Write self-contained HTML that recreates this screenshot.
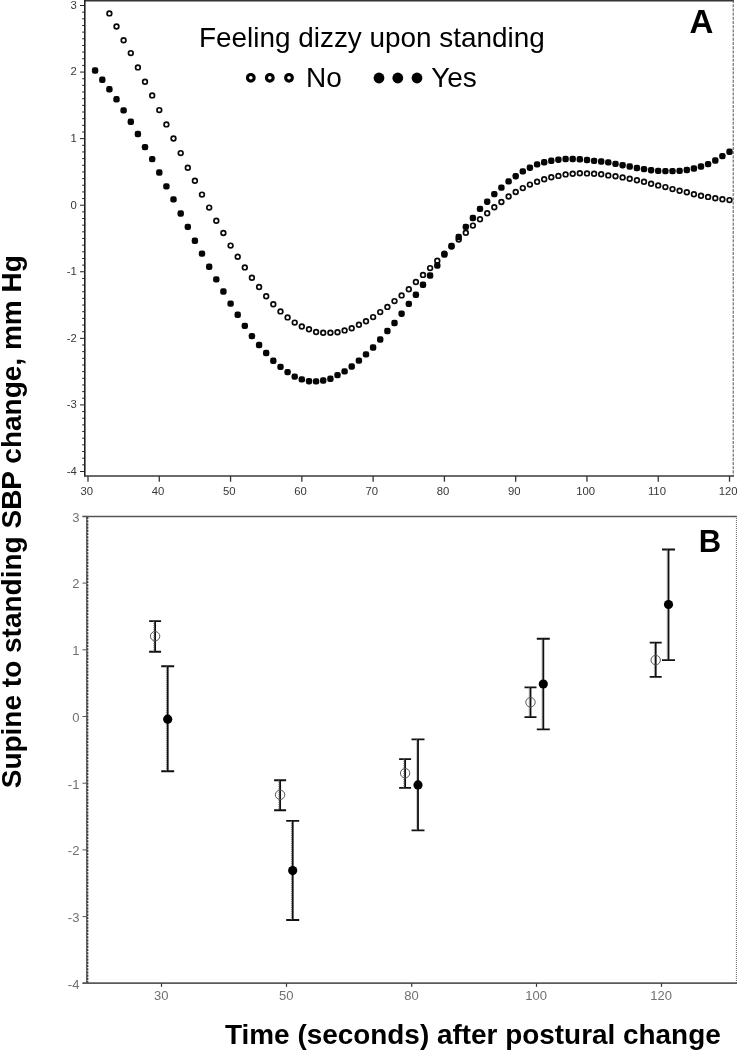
<!DOCTYPE html>
<html lang="en"><head><meta charset="utf-8"><title>Supine to standing SBP change</title>
<style>html,body{margin:0;padding:0;background:#fff}body{width:738px;height:1050px;overflow:hidden}svg{display:block;will-change:transform}text{font-family:"Liberation Sans",Arial,Helvetica,sans-serif}.big{font-size:28px;fill:#000}.bold{font-weight:bold}.pl{font-size:31px;font-weight:bold;fill:#000}.ta{font-size:11.3px;fill:#383838}.tb{font-size:13px;fill:#707070}.plA{font-size:33px;font-weight:bold;fill:#000}</style></head><body>
<svg width="738" height="1050" viewBox="0 0 738 1050">
<rect width="738" height="1050" fill="#fff"/>
<g id="panelA">
<line x1="84" y1="0.6" x2="734" y2="0.6" stroke="#333" stroke-width="1.6"/>
<line x1="84.8" y1="0" x2="84.8" y2="476.4" stroke="#222" stroke-width="1.6"/>
<line x1="84" y1="476.0" x2="734" y2="476.0" stroke="#3a3a3a" stroke-width="1.6"/>
<line x1="733.2" y1="0" x2="733.2" y2="476" stroke="#555" stroke-width="1" stroke-dasharray="3 1.2"/>
<line x1="80" y1="5.50" x2="85" y2="5.50" stroke="#222" stroke-width="1"/>
<text class="ta" x="76.8" y="8.90" text-anchor="end">3</text>
<line x1="82.2" y1="12.16" x2="85" y2="12.16" stroke="#222" stroke-width="1"/>
<line x1="82.2" y1="18.81" x2="85" y2="18.81" stroke="#222" stroke-width="1"/>
<line x1="82.2" y1="25.47" x2="85" y2="25.47" stroke="#222" stroke-width="1"/>
<line x1="82.2" y1="32.13" x2="85" y2="32.13" stroke="#222" stroke-width="1"/>
<line x1="82.2" y1="38.78" x2="85" y2="38.78" stroke="#222" stroke-width="1"/>
<line x1="82.2" y1="45.44" x2="85" y2="45.44" stroke="#222" stroke-width="1"/>
<line x1="82.2" y1="52.10" x2="85" y2="52.10" stroke="#222" stroke-width="1"/>
<line x1="82.2" y1="58.76" x2="85" y2="58.76" stroke="#222" stroke-width="1"/>
<line x1="82.2" y1="65.41" x2="85" y2="65.41" stroke="#222" stroke-width="1"/>
<line x1="80" y1="72.07" x2="85" y2="72.07" stroke="#222" stroke-width="1"/>
<text class="ta" x="76.8" y="75.47" text-anchor="end">2</text>
<line x1="82.2" y1="78.73" x2="85" y2="78.73" stroke="#222" stroke-width="1"/>
<line x1="82.2" y1="85.38" x2="85" y2="85.38" stroke="#222" stroke-width="1"/>
<line x1="82.2" y1="92.04" x2="85" y2="92.04" stroke="#222" stroke-width="1"/>
<line x1="82.2" y1="98.70" x2="85" y2="98.70" stroke="#222" stroke-width="1"/>
<line x1="82.2" y1="105.35" x2="85" y2="105.35" stroke="#222" stroke-width="1"/>
<line x1="82.2" y1="112.01" x2="85" y2="112.01" stroke="#222" stroke-width="1"/>
<line x1="82.2" y1="118.67" x2="85" y2="118.67" stroke="#222" stroke-width="1"/>
<line x1="82.2" y1="125.33" x2="85" y2="125.33" stroke="#222" stroke-width="1"/>
<line x1="82.2" y1="131.98" x2="85" y2="131.98" stroke="#222" stroke-width="1"/>
<line x1="80" y1="138.64" x2="85" y2="138.64" stroke="#222" stroke-width="1"/>
<text class="ta" x="76.8" y="142.04" text-anchor="end">1</text>
<line x1="82.2" y1="145.30" x2="85" y2="145.30" stroke="#222" stroke-width="1"/>
<line x1="82.2" y1="151.95" x2="85" y2="151.95" stroke="#222" stroke-width="1"/>
<line x1="82.2" y1="158.61" x2="85" y2="158.61" stroke="#222" stroke-width="1"/>
<line x1="82.2" y1="165.27" x2="85" y2="165.27" stroke="#222" stroke-width="1"/>
<line x1="82.2" y1="171.92" x2="85" y2="171.92" stroke="#222" stroke-width="1"/>
<line x1="82.2" y1="178.58" x2="85" y2="178.58" stroke="#222" stroke-width="1"/>
<line x1="82.2" y1="185.24" x2="85" y2="185.24" stroke="#222" stroke-width="1"/>
<line x1="82.2" y1="191.90" x2="85" y2="191.90" stroke="#222" stroke-width="1"/>
<line x1="82.2" y1="198.55" x2="85" y2="198.55" stroke="#222" stroke-width="1"/>
<line x1="80" y1="205.21" x2="85" y2="205.21" stroke="#222" stroke-width="1"/>
<text class="ta" x="76.8" y="208.61" text-anchor="end">0</text>
<line x1="82.2" y1="211.87" x2="85" y2="211.87" stroke="#222" stroke-width="1"/>
<line x1="82.2" y1="218.52" x2="85" y2="218.52" stroke="#222" stroke-width="1"/>
<line x1="82.2" y1="225.18" x2="85" y2="225.18" stroke="#222" stroke-width="1"/>
<line x1="82.2" y1="231.84" x2="85" y2="231.84" stroke="#222" stroke-width="1"/>
<line x1="82.2" y1="238.49" x2="85" y2="238.49" stroke="#222" stroke-width="1"/>
<line x1="82.2" y1="245.15" x2="85" y2="245.15" stroke="#222" stroke-width="1"/>
<line x1="82.2" y1="251.81" x2="85" y2="251.81" stroke="#222" stroke-width="1"/>
<line x1="82.2" y1="258.47" x2="85" y2="258.47" stroke="#222" stroke-width="1"/>
<line x1="82.2" y1="265.12" x2="85" y2="265.12" stroke="#222" stroke-width="1"/>
<line x1="80" y1="271.78" x2="85" y2="271.78" stroke="#222" stroke-width="1"/>
<text class="ta" x="76.8" y="275.18" text-anchor="end">-1</text>
<line x1="82.2" y1="278.44" x2="85" y2="278.44" stroke="#222" stroke-width="1"/>
<line x1="82.2" y1="285.09" x2="85" y2="285.09" stroke="#222" stroke-width="1"/>
<line x1="82.2" y1="291.75" x2="85" y2="291.75" stroke="#222" stroke-width="1"/>
<line x1="82.2" y1="298.41" x2="85" y2="298.41" stroke="#222" stroke-width="1"/>
<line x1="82.2" y1="305.06" x2="85" y2="305.06" stroke="#222" stroke-width="1"/>
<line x1="82.2" y1="311.72" x2="85" y2="311.72" stroke="#222" stroke-width="1"/>
<line x1="82.2" y1="318.38" x2="85" y2="318.38" stroke="#222" stroke-width="1"/>
<line x1="82.2" y1="325.04" x2="85" y2="325.04" stroke="#222" stroke-width="1"/>
<line x1="82.2" y1="331.69" x2="85" y2="331.69" stroke="#222" stroke-width="1"/>
<line x1="80" y1="338.35" x2="85" y2="338.35" stroke="#222" stroke-width="1"/>
<text class="ta" x="76.8" y="341.75" text-anchor="end">-2</text>
<line x1="82.2" y1="345.01" x2="85" y2="345.01" stroke="#222" stroke-width="1"/>
<line x1="82.2" y1="351.66" x2="85" y2="351.66" stroke="#222" stroke-width="1"/>
<line x1="82.2" y1="358.32" x2="85" y2="358.32" stroke="#222" stroke-width="1"/>
<line x1="82.2" y1="364.98" x2="85" y2="364.98" stroke="#222" stroke-width="1"/>
<line x1="82.2" y1="371.63" x2="85" y2="371.63" stroke="#222" stroke-width="1"/>
<line x1="82.2" y1="378.29" x2="85" y2="378.29" stroke="#222" stroke-width="1"/>
<line x1="82.2" y1="384.95" x2="85" y2="384.95" stroke="#222" stroke-width="1"/>
<line x1="82.2" y1="391.61" x2="85" y2="391.61" stroke="#222" stroke-width="1"/>
<line x1="82.2" y1="398.26" x2="85" y2="398.26" stroke="#222" stroke-width="1"/>
<line x1="80" y1="404.92" x2="85" y2="404.92" stroke="#222" stroke-width="1"/>
<text class="ta" x="76.8" y="408.32" text-anchor="end">-3</text>
<line x1="82.2" y1="411.58" x2="85" y2="411.58" stroke="#222" stroke-width="1"/>
<line x1="82.2" y1="418.23" x2="85" y2="418.23" stroke="#222" stroke-width="1"/>
<line x1="82.2" y1="424.89" x2="85" y2="424.89" stroke="#222" stroke-width="1"/>
<line x1="82.2" y1="431.55" x2="85" y2="431.55" stroke="#222" stroke-width="1"/>
<line x1="82.2" y1="438.20" x2="85" y2="438.20" stroke="#222" stroke-width="1"/>
<line x1="82.2" y1="444.86" x2="85" y2="444.86" stroke="#222" stroke-width="1"/>
<line x1="82.2" y1="451.52" x2="85" y2="451.52" stroke="#222" stroke-width="1"/>
<line x1="82.2" y1="458.18" x2="85" y2="458.18" stroke="#222" stroke-width="1"/>
<line x1="82.2" y1="464.83" x2="85" y2="464.83" stroke="#222" stroke-width="1"/>
<line x1="80" y1="471.49" x2="85" y2="471.49" stroke="#222" stroke-width="1"/>
<text class="ta" x="76.8" y="474.89" text-anchor="end">-4</text>
<line x1="88.00" y1="476" x2="88.00" y2="481.7" stroke="#333" stroke-width="1.3"/>
<text class="ta" x="86.70" y="495.4" text-anchor="middle">30</text>
<line x1="159.28" y1="476" x2="159.28" y2="481.7" stroke="#333" stroke-width="1.3"/>
<text class="ta" x="157.98" y="495.4" text-anchor="middle">40</text>
<line x1="230.56" y1="476" x2="230.56" y2="481.7" stroke="#333" stroke-width="1.3"/>
<text class="ta" x="229.26" y="495.4" text-anchor="middle">50</text>
<line x1="301.84" y1="476" x2="301.84" y2="481.7" stroke="#333" stroke-width="1.3"/>
<text class="ta" x="300.54" y="495.4" text-anchor="middle">60</text>
<line x1="373.12" y1="476" x2="373.12" y2="481.7" stroke="#333" stroke-width="1.3"/>
<text class="ta" x="371.82" y="495.4" text-anchor="middle">70</text>
<line x1="444.40" y1="476" x2="444.40" y2="481.7" stroke="#333" stroke-width="1.3"/>
<text class="ta" x="443.10" y="495.4" text-anchor="middle">80</text>
<line x1="515.68" y1="476" x2="515.68" y2="481.7" stroke="#333" stroke-width="1.3"/>
<text class="ta" x="514.38" y="495.4" text-anchor="middle">90</text>
<line x1="586.96" y1="476" x2="586.96" y2="481.7" stroke="#333" stroke-width="1.3"/>
<text class="ta" x="585.66" y="495.4" text-anchor="middle">100</text>
<line x1="658.24" y1="476" x2="658.24" y2="481.7" stroke="#333" stroke-width="1.3"/>
<text class="ta" x="656.94" y="495.4" text-anchor="middle">110</text>
<line x1="729.52" y1="476" x2="729.52" y2="481.7" stroke="#333" stroke-width="1.3"/>
<text class="ta" x="728.22" y="495.4" text-anchor="middle">120</text>
<g fill="#fff" stroke="#0a0a0a" stroke-width="1.7">
<circle cx="109.4" cy="13.4" r="2.35"/>
<circle cx="116.5" cy="26.5" r="2.35"/>
<circle cx="123.6" cy="40.3" r="2.35"/>
<circle cx="130.8" cy="53.1" r="2.35"/>
<circle cx="137.9" cy="67.4" r="2.35"/>
<circle cx="145.0" cy="81.7" r="2.35"/>
<circle cx="152.2" cy="95.4" r="2.35"/>
<circle cx="159.3" cy="110.1" r="2.35"/>
<circle cx="166.4" cy="124.4" r="2.35"/>
<circle cx="173.5" cy="138.5" r="2.35"/>
<circle cx="180.7" cy="153.1" r="2.35"/>
<circle cx="187.8" cy="167.7" r="2.35"/>
<circle cx="194.9" cy="180.7" r="2.35"/>
<circle cx="202.0" cy="194.6" r="2.35"/>
<circle cx="209.2" cy="207.6" r="2.35"/>
<circle cx="216.3" cy="220.8" r="2.35"/>
<circle cx="223.4" cy="233.0" r="2.35"/>
<circle cx="230.6" cy="245.6" r="2.35"/>
<circle cx="237.7" cy="256.7" r="2.35"/>
<circle cx="244.8" cy="267.4" r="2.35"/>
<circle cx="251.9" cy="277.8" r="2.35"/>
<circle cx="259.1" cy="287.0" r="2.35"/>
<circle cx="266.2" cy="296.2" r="2.35"/>
<circle cx="273.3" cy="304.2" r="2.35"/>
<circle cx="280.5" cy="311.4" r="2.35"/>
<circle cx="287.6" cy="317.4" r="2.35"/>
<circle cx="294.7" cy="322.6" r="2.35"/>
<circle cx="301.8" cy="326.5" r="2.35"/>
<circle cx="309.0" cy="329.3" r="2.35"/>
<circle cx="316.1" cy="332.0" r="2.35"/>
<circle cx="323.2" cy="332.8" r="2.35"/>
<circle cx="330.4" cy="332.8" r="2.35"/>
<circle cx="337.5" cy="332.2" r="2.35"/>
<circle cx="344.6" cy="330.4" r="2.35"/>
<circle cx="351.7" cy="328.2" r="2.35"/>
<circle cx="358.9" cy="324.8" r="2.35"/>
<circle cx="366.0" cy="321.2" r="2.35"/>
<circle cx="373.1" cy="317.1" r="2.35"/>
<circle cx="380.2" cy="312.1" r="2.35"/>
<circle cx="387.4" cy="306.9" r="2.35"/>
<circle cx="394.5" cy="301.1" r="2.35"/>
<circle cx="401.6" cy="295.4" r="2.35"/>
<circle cx="408.8" cy="289.2" r="2.35"/>
<circle cx="415.9" cy="282.0" r="2.35"/>
<circle cx="423.0" cy="274.9" r="2.35"/>
<circle cx="430.1" cy="268.1" r="2.35"/>
<circle cx="437.3" cy="260.8" r="2.35"/>
<circle cx="444.4" cy="253.6" r="2.35"/>
<circle cx="451.5" cy="246.5" r="2.35"/>
<circle cx="458.7" cy="239.5" r="2.35"/>
<circle cx="465.8" cy="232.7" r="2.35"/>
<circle cx="472.9" cy="225.6" r="2.35"/>
<circle cx="480.0" cy="219.3" r="2.35"/>
<circle cx="487.2" cy="213.2" r="2.35"/>
<circle cx="494.3" cy="207.2" r="2.35"/>
<circle cx="501.4" cy="202.0" r="2.35"/>
<circle cx="508.6" cy="196.5" r="2.35"/>
<circle cx="515.7" cy="192.0" r="2.35"/>
<circle cx="522.8" cy="188.1" r="2.35"/>
<circle cx="529.9" cy="184.6" r="2.35"/>
<circle cx="537.1" cy="181.8" r="2.35"/>
<circle cx="544.2" cy="179.2" r="2.35"/>
<circle cx="551.3" cy="177.2" r="2.35"/>
<circle cx="558.4" cy="175.9" r="2.35"/>
<circle cx="565.6" cy="174.4" r="2.35"/>
<circle cx="572.7" cy="173.8" r="2.35"/>
<circle cx="579.8" cy="173.3" r="2.35"/>
<circle cx="587.0" cy="173.4" r="2.35"/>
<circle cx="594.1" cy="173.8" r="2.35"/>
<circle cx="601.2" cy="174.3" r="2.35"/>
<circle cx="608.3" cy="175.4" r="2.35"/>
<circle cx="615.5" cy="176.3" r="2.35"/>
<circle cx="622.6" cy="177.4" r="2.35"/>
<circle cx="629.7" cy="178.7" r="2.35"/>
<circle cx="636.9" cy="180.2" r="2.35"/>
<circle cx="644.0" cy="181.7" r="2.35"/>
<circle cx="651.1" cy="183.7" r="2.35"/>
<circle cx="658.2" cy="185.4" r="2.35"/>
<circle cx="665.4" cy="187.1" r="2.35"/>
<circle cx="672.5" cy="189.1" r="2.35"/>
<circle cx="679.6" cy="190.8" r="2.35"/>
<circle cx="686.8" cy="192.3" r="2.35"/>
<circle cx="693.9" cy="194.3" r="2.35"/>
<circle cx="701.0" cy="195.8" r="2.35"/>
<circle cx="708.1" cy="196.9" r="2.35"/>
<circle cx="715.3" cy="198.2" r="2.35"/>
<circle cx="722.4" cy="199.3" r="2.35"/>
<circle cx="729.5" cy="200.1" r="2.35"/>
</g>
<g fill="#050505">
<rect x="91.9" y="67.3" width="6.4" height="6.4" rx="2.3"/>
<rect x="99.1" y="76.6" width="6.4" height="6.4" rx="2.3"/>
<rect x="106.2" y="86.1" width="6.4" height="6.4" rx="2.3"/>
<rect x="113.3" y="96.1" width="6.4" height="6.4" rx="2.3"/>
<rect x="120.4" y="107.2" width="6.4" height="6.4" rx="2.3"/>
<rect x="127.6" y="118.6" width="6.4" height="6.4" rx="2.3"/>
<rect x="134.7" y="130.8" width="6.4" height="6.4" rx="2.3"/>
<rect x="141.8" y="143.9" width="6.4" height="6.4" rx="2.3"/>
<rect x="149.0" y="155.9" width="6.4" height="6.4" rx="2.3"/>
<rect x="156.1" y="169.3" width="6.4" height="6.4" rx="2.3"/>
<rect x="163.2" y="183.2" width="6.4" height="6.4" rx="2.3"/>
<rect x="170.3" y="196.2" width="6.4" height="6.4" rx="2.3"/>
<rect x="177.5" y="210.3" width="6.4" height="6.4" rx="2.3"/>
<rect x="184.6" y="223.7" width="6.4" height="6.4" rx="2.3"/>
<rect x="191.7" y="237.6" width="6.4" height="6.4" rx="2.3"/>
<rect x="198.8" y="250.4" width="6.4" height="6.4" rx="2.3"/>
<rect x="206.0" y="263.6" width="6.4" height="6.4" rx="2.3"/>
<rect x="213.1" y="276.2" width="6.4" height="6.4" rx="2.3"/>
<rect x="220.2" y="288.3" width="6.4" height="6.4" rx="2.3"/>
<rect x="227.4" y="300.4" width="6.4" height="6.4" rx="2.3"/>
<rect x="234.5" y="311.6" width="6.4" height="6.4" rx="2.3"/>
<rect x="241.6" y="322.7" width="6.4" height="6.4" rx="2.3"/>
<rect x="248.7" y="332.9" width="6.4" height="6.4" rx="2.3"/>
<rect x="255.9" y="341.8" width="6.4" height="6.4" rx="2.3"/>
<rect x="263.0" y="349.8" width="6.4" height="6.4" rx="2.3"/>
<rect x="270.1" y="357.6" width="6.4" height="6.4" rx="2.3"/>
<rect x="277.3" y="363.7" width="6.4" height="6.4" rx="2.3"/>
<rect x="284.4" y="368.9" width="6.4" height="6.4" rx="2.3"/>
<rect x="291.5" y="373.4" width="6.4" height="6.4" rx="2.3"/>
<rect x="298.6" y="376.2" width="6.4" height="6.4" rx="2.3"/>
<rect x="305.8" y="378.0" width="6.4" height="6.4" rx="2.3"/>
<rect x="312.9" y="378.2" width="6.4" height="6.4" rx="2.3"/>
<rect x="320.0" y="377.3" width="6.4" height="6.4" rx="2.3"/>
<rect x="327.2" y="375.6" width="6.4" height="6.4" rx="2.3"/>
<rect x="334.3" y="371.9" width="6.4" height="6.4" rx="2.3"/>
<rect x="341.4" y="368.2" width="6.4" height="6.4" rx="2.3"/>
<rect x="348.5" y="363.3" width="6.4" height="6.4" rx="2.3"/>
<rect x="355.7" y="357.4" width="6.4" height="6.4" rx="2.3"/>
<rect x="362.8" y="351.2" width="6.4" height="6.4" rx="2.3"/>
<rect x="369.9" y="344.3" width="6.4" height="6.4" rx="2.3"/>
<rect x="377.0" y="336.3" width="6.4" height="6.4" rx="2.3"/>
<rect x="384.2" y="327.8" width="6.4" height="6.4" rx="2.3"/>
<rect x="391.3" y="319.8" width="6.4" height="6.4" rx="2.3"/>
<rect x="398.4" y="310.5" width="6.4" height="6.4" rx="2.3"/>
<rect x="405.6" y="300.7" width="6.4" height="6.4" rx="2.3"/>
<rect x="412.7" y="291.6" width="6.4" height="6.4" rx="2.3"/>
<rect x="419.8" y="281.6" width="6.4" height="6.4" rx="2.3"/>
<rect x="426.9" y="272.3" width="6.4" height="6.4" rx="2.3"/>
<rect x="434.1" y="262.3" width="6.4" height="6.4" rx="2.3"/>
<rect x="441.2" y="251.3" width="6.4" height="6.4" rx="2.3"/>
<rect x="448.3" y="242.8" width="6.4" height="6.4" rx="2.3"/>
<rect x="455.5" y="233.8" width="6.4" height="6.4" rx="2.3"/>
<rect x="462.6" y="223.7" width="6.4" height="6.4" rx="2.3"/>
<rect x="469.7" y="214.8" width="6.4" height="6.4" rx="2.3"/>
<rect x="476.8" y="205.7" width="6.4" height="6.4" rx="2.3"/>
<rect x="484.0" y="198.5" width="6.4" height="6.4" rx="2.3"/>
<rect x="491.1" y="190.9" width="6.4" height="6.4" rx="2.3"/>
<rect x="498.2" y="184.4" width="6.4" height="6.4" rx="2.3"/>
<rect x="505.4" y="178.2" width="6.4" height="6.4" rx="2.3"/>
<rect x="512.5" y="173.0" width="6.4" height="6.4" rx="2.3"/>
<rect x="519.6" y="168.2" width="6.4" height="6.4" rx="2.3"/>
<rect x="526.7" y="164.5" width="6.4" height="6.4" rx="2.3"/>
<rect x="533.9" y="161.2" width="6.4" height="6.4" rx="2.3"/>
<rect x="541.0" y="159.1" width="6.4" height="6.4" rx="2.3"/>
<rect x="548.1" y="157.6" width="6.4" height="6.4" rx="2.3"/>
<rect x="555.2" y="156.5" width="6.4" height="6.4" rx="2.3"/>
<rect x="562.4" y="155.8" width="6.4" height="6.4" rx="2.3"/>
<rect x="569.5" y="155.8" width="6.4" height="6.4" rx="2.3"/>
<rect x="576.6" y="156.1" width="6.4" height="6.4" rx="2.3"/>
<rect x="583.8" y="156.8" width="6.4" height="6.4" rx="2.3"/>
<rect x="590.9" y="157.7" width="6.4" height="6.4" rx="2.3"/>
<rect x="598.0" y="158.3" width="6.4" height="6.4" rx="2.3"/>
<rect x="605.1" y="159.2" width="6.4" height="6.4" rx="2.3"/>
<rect x="612.3" y="160.7" width="6.4" height="6.4" rx="2.3"/>
<rect x="619.4" y="162.0" width="6.4" height="6.4" rx="2.3"/>
<rect x="626.5" y="163.3" width="6.4" height="6.4" rx="2.3"/>
<rect x="633.7" y="164.8" width="6.4" height="6.4" rx="2.3"/>
<rect x="640.8" y="165.9" width="6.4" height="6.4" rx="2.3"/>
<rect x="647.9" y="167.0" width="6.4" height="6.4" rx="2.3"/>
<rect x="655.0" y="167.7" width="6.4" height="6.4" rx="2.3"/>
<rect x="662.2" y="167.9" width="6.4" height="6.4" rx="2.3"/>
<rect x="669.3" y="167.9" width="6.4" height="6.4" rx="2.3"/>
<rect x="676.4" y="167.7" width="6.4" height="6.4" rx="2.3"/>
<rect x="683.6" y="166.8" width="6.4" height="6.4" rx="2.3"/>
<rect x="690.7" y="165.3" width="6.4" height="6.4" rx="2.3"/>
<rect x="697.8" y="163.3" width="6.4" height="6.4" rx="2.3"/>
<rect x="704.9" y="160.9" width="6.4" height="6.4" rx="2.3"/>
<rect x="712.1" y="157.3" width="6.4" height="6.4" rx="2.3"/>
<rect x="719.2" y="152.9" width="6.4" height="6.4" rx="2.3"/>
<rect x="726.3" y="148.6" width="6.4" height="6.4" rx="2.3"/>
</g>
<text class="big" style="font-size:27.9px" x="199" y="46.8">Feeling dizzy upon standing</text>
<g fill="#fff" stroke="#000" stroke-width="3.1">
<circle cx="250.8" cy="77.8" r="3.35"/>
<circle cx="269.8" cy="77.8" r="3.35"/>
<circle cx="289.0" cy="77.8" r="3.35"/>
</g>
<text class="big" x="306" y="86.5">No</text>
<g fill="#000">
<circle cx="379.0" cy="78" r="5.4"/>
<circle cx="397.8" cy="78" r="5.4"/>
<circle cx="417.0" cy="78" r="5.4"/>
</g>
<text class="big" x="431.2" y="86.5">Yes</text>
<text class="plA" x="689.4" y="33">A</text>
</g>
<g id="panelB">
<line x1="82.5" y1="516.4" x2="737" y2="516.4" stroke="#555" stroke-width="1.5"/>
<line x1="86.8" y1="517" x2="86.8" y2="983" stroke="#3a3a3a" stroke-width="1.2"/>
<line x1="87.7" y1="517" x2="87.7" y2="983" stroke="#3a3a3a" stroke-width="1.3" stroke-dasharray="2.1 1.1"/>
<line x1="82.5" y1="983.1" x2="737" y2="983.1" stroke="#5a5a5a" stroke-width="1.8"/>
<line x1="736.4" y1="516" x2="736.4" y2="984" stroke="#666" stroke-width="1" stroke-dasharray="1 1"/>
<line x1="82.5" y1="516.40" x2="86.5" y2="516.40" stroke="#555" stroke-width="1"/>
<text class="tb" x="79.4" y="521.70" text-anchor="end">3</text>
<line x1="82.5" y1="583.10" x2="86.5" y2="583.10" stroke="#555" stroke-width="1"/>
<text class="tb" x="79.4" y="588.40" text-anchor="end">2</text>
<line x1="82.5" y1="649.80" x2="86.5" y2="649.80" stroke="#555" stroke-width="1"/>
<text class="tb" x="79.4" y="655.10" text-anchor="end">1</text>
<line x1="82.5" y1="716.50" x2="86.5" y2="716.50" stroke="#555" stroke-width="1"/>
<text class="tb" x="79.4" y="721.80" text-anchor="end">0</text>
<line x1="82.5" y1="783.20" x2="86.5" y2="783.20" stroke="#555" stroke-width="1"/>
<text class="tb" x="79.4" y="788.50" text-anchor="end">-1</text>
<line x1="82.5" y1="849.90" x2="86.5" y2="849.90" stroke="#555" stroke-width="1"/>
<text class="tb" x="79.4" y="855.20" text-anchor="end">-2</text>
<line x1="82.5" y1="916.60" x2="86.5" y2="916.60" stroke="#555" stroke-width="1"/>
<text class="tb" x="79.4" y="921.90" text-anchor="end">-3</text>
<line x1="82.5" y1="983.30" x2="86.5" y2="983.30" stroke="#555" stroke-width="1"/>
<text class="tb" x="79.4" y="988.60" text-anchor="end">-4</text>
<line x1="161.5" y1="983.5" x2="161.5" y2="986.8" stroke="#333" stroke-width="1.2"/>
<text class="tb" x="161.2" y="1000.2" text-anchor="middle">30</text>
<line x1="286.5" y1="983.5" x2="286.5" y2="986.8" stroke="#333" stroke-width="1.2"/>
<text class="tb" x="286.2" y="1000.2" text-anchor="middle">50</text>
<line x1="411.7" y1="983.5" x2="411.7" y2="986.8" stroke="#333" stroke-width="1.2"/>
<text class="tb" x="411.4" y="1000.2" text-anchor="middle">80</text>
<line x1="536.5" y1="983.5" x2="536.5" y2="986.8" stroke="#333" stroke-width="1.2"/>
<text class="tb" x="536.2" y="1000.2" text-anchor="middle">100</text>
<line x1="661.5" y1="983.5" x2="661.5" y2="986.8" stroke="#333" stroke-width="1.2"/>
<text class="tb" x="661.2" y="1000.2" text-anchor="middle">120</text>
<g stroke="#111" stroke-width="1.85" fill="none">
<path d="M155.1 621.1V651.7M149.1 621.1H161.1M149.1 651.7H161.1"/>
<path d="M280.1 780.2V810.2M274.1 780.2H286.1M274.1 810.2H286.1"/>
<path d="M405.1 759.1V787.8M399.1 759.1H411.1M399.1 787.8H411.1"/>
<path d="M530.5 687.4V717.1M524.5 687.4H536.5M524.5 717.1H536.5"/>
<path d="M655.7 642.6V676.9M649.7 642.6H661.7M649.7 676.9H661.7"/>
<path d="M167.7 666.2V771.2M161.2 666.2H174.2M161.2 771.2H174.2"/>
<path d="M292.7 820.9V920.0M286.2 820.9H299.2M286.2 920.0H299.2"/>
<path d="M418.0 739.4V830.3M411.5 739.4H424.5M411.5 830.3H424.5"/>
<path d="M543.3 638.7V729.4M536.8 638.7H549.8M536.8 729.4H549.8"/>
<path d="M668.5 549.5V660.1M662.0 549.5H675.0M662.0 660.1H675.0"/>
</g>
<g stroke="#777" stroke-width="0.9" stroke-dasharray="1 1" fill="none">
<path d="M153.8 621.1V651.7"/>
<path d="M278.8 780.2V810.2"/>
<path d="M403.8 759.1V787.8"/>
<path d="M529.2 687.4V717.1"/>
<path d="M654.4 642.6V676.9"/>
<path d="M166.4 666.2V771.2"/>
<path d="M291.4 820.9V920.0"/>
<path d="M416.7 739.4V830.3"/>
<path d="M542.0 638.7V729.4"/>
<path d="M667.2 549.5V660.1"/>
</g>
<g stroke="#555" stroke-width="1" fill="none">
<circle cx="155.1" cy="636.2" r="4.7"/>
<circle cx="280.1" cy="794.8" r="4.7"/>
<circle cx="405.1" cy="773.2" r="4.7"/>
<circle cx="530.5" cy="702.3" r="4.7"/>
<circle cx="655.7" cy="660.1" r="4.7"/>
</g>
<g fill="#000">
<circle cx="167.7" cy="719.2" r="4.6"/>
<circle cx="292.7" cy="870.6" r="4.6"/>
<circle cx="418.0" cy="784.9" r="4.6"/>
<circle cx="543.3" cy="684.0" r="4.6"/>
<circle cx="668.5" cy="604.5" r="4.6"/>
</g>
<text class="pl" x="698.8" y="552.2">B</text>
</g>
<text class="big bold" style="font-size:27.91px" x="225" y="1043.5">Time (seconds) after postural change</text>
<text class="big bold" transform="translate(21.4 788.3) rotate(-90)">Supine to standing SBP change, mm Hg</text>
</svg></body></html>
